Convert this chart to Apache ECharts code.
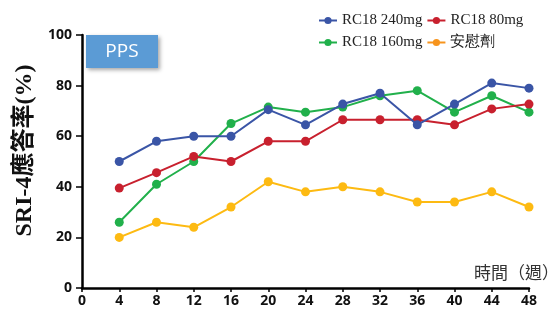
<!DOCTYPE html>
<html><head><meta charset="utf-8">
<script src="https://cdn.jsdelivr.net/npm/echarts@6/dist/echarts.min.js"></script>
<style>html,body{margin:0;padding:0;background:#fff}#c{width:559px;height:311px}</style>
</head><body><div id="c"></div>
<script>
const weeks = [4, 8, 12, 16, 20, 24, 28, 32, 36, 40, 44, 48];
const rc240 = [50, 58, 60, 60, 70.5, 64.5, 72.7, 77, 64.5, 72.7, 81, 79];
const rc80 = [39.5, 45.6, 52, 50, 58, 58, 66.5, 66.5, 66.5, 64.5, 70.8, 72.7];
const rc160 = [26, 41, 50, 65, 71.5, 69.5, 71.5, 76, 78, 69.5, 76, 69.5];
const placebo = [20, 26, 24, 32, 42, 38, 40, 38, 34, 34, 38, 32];
const seriesNames = ['RC18 240mg', 'RC18 80mg', 'RC18 160mg', '安慰劑'];
const colors = ['#3A55A6', '#C8202E', '#21B04B', '#FDBA12'];
const legendColors = ['#3A55A6', '#C8202E', '#21B04B', '#F7941D'];
const allData = [rc240, rc80, rc160, placebo];

const chart = echarts.init(document.getElementById('c'));
const mk = i => ({
  name: seriesNames[i], type: 'line', data: weeks.map((w, k) => [w, allData[i][k]]),
  symbol: 'circle', symbolSize: 9, color: colors[i],
  lineStyle: {width: 2, color: colors[i]}, itemStyle: {color: colors[i]}, z: 10 - i
});
const legendItem = i => ({name: seriesNames[i], itemStyle: {color: legendColors[i]}, lineStyle: {color: legendColors[i]}});
const legendCommon = {
  left: 313, itemWidth: 18, itemHeight: 9, itemGap: 4,
  textStyle: {fontFamily: 'Liberation Serif, serif', fontSize: 15, color: '#222'}
};
chart.setOption({
  animation: false,
  grid: {left: 82, right: 30, top: 35, bottom: 23, outerBoundsMode: 'none', containLabel: false},
  legend: [
    Object.assign({top: 8, data: [legendItem(0), legendItem(1)]}, legendCommon),
    Object.assign({top: 30, data: [legendItem(2), legendItem(3)]}, legendCommon)
  ],
  xAxis: {
    type: 'value', min: 0, max: 48, interval: 4,
    name: '時間（週）', nameLocation: 'end', nameGap: 30,
    nameTextStyle: {fontFamily: 'Noto Sans CJK TC, sans-serif', fontSize: 17, color: '#333', align: 'right', verticalAlign: 'bottom', padding: [0, 0, 7, 0]},
    axisLine: {lineStyle: {color: '#000', width: 2.5}},
    axisTick: {show: true, length: 4, lineStyle: {color: '#000', width: 1.5}},
    axisLabel: {color: '#111', fontWeight: 'bold', fontSize: 14, fontFamily: 'Open Sans, sans-serif', margin: 6},
    splitLine: {show: false}
  },
  yAxis: {
    type: 'value', min: 0, max: 100, interval: 20,
    name: 'SRI-4應答率(%)', nameLocation: 'middle', nameGap: 41, nameRotate: 90,
    nameTextStyle: {fontFamily: 'Liberation Serif, Noto Sans CJK TC, serif', fontWeight: 'bold', fontSize: 24, color: '#111', padding: [0, 0, 0, 22]},
    axisLine: {show: true, lineStyle: {color: '#000', width: 2.5}},
    axisTick: {show: true, length: 6, lineStyle: {color: '#000', width: 1.5}},
    axisLabel: {color: '#111', fontWeight: 'bold', fontSize: 14, fontFamily: 'Open Sans, sans-serif', margin: 10},
    splitLine: {show: false}
  },
  graphic: [{
    type: 'group', left: 86, top: 35, z: 100,
    children: [
      {type: 'rect', shape: {x: 0, y: 0, width: 72, height: 33},
       style: {fill: '#5B9BD5', shadowBlur: 4, shadowOffsetX: 2, shadowOffsetY: 2, shadowColor: 'rgba(0,0,0,0.35)'}},
      {type: 'text', style: {x: 36, y: 17, text: 'PPS', fill: '#fff', fontSize: 19, fontFamily: 'Open Sans, sans-serif', align: 'center', verticalAlign: 'middle'}}
    ]
  }],
  series: [mk(0), mk(1), mk(2), mk(3)]
});
</script></body></html>
